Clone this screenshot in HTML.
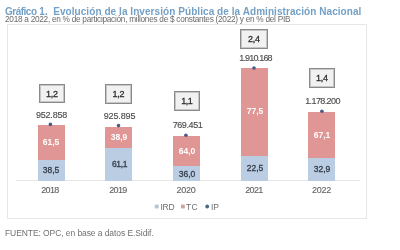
<!DOCTYPE html>
<html><head><meta charset="utf-8">
<style>
html,body{margin:0;padding:0;background:#fff;width:400px;height:250px;overflow:hidden;position:relative;font-family:"Liberation Sans",sans-serif;}
.a{position:absolute;}
.t{position:absolute;white-space:nowrap;line-height:1;}
.title{left:5px;top:6.5px;font-size:10px;font-weight:bold;letter-spacing:0.065px;color:#74a0c6;}
.sub{left:5px;top:16px;font-size:8.25px;letter-spacing:-0.27px;color:#6a6a6a;}
.frame{left:7px;top:24px;width:358px;height:193px;border:1px solid #e6e6e6;}
.axis{left:16px;top:180px;width:344px;height:1px;background:#e6e6e6;}
.bar{position:absolute;width:27px;}
.tc{background:#e09694;}
.ird{background:#bbcde2;}
.lbl{position:absolute;width:60px;text-align:center;white-space:nowrap;line-height:1;font-size:8.5px;}
.box{position:absolute;border:1px solid #8a8a8a;padding:1px;box-shadow:inset 0 0 0 1px #c6c6c6;background:#f1f1f1;text-align:center;font-size:8.5px;line-height:15px;color:#2e2e2e;font-size:9px;-webkit-text-stroke:0.3px #2e2e2e;letter-spacing:-0.2px;text-indent:-0.2px;}
.val{color:#4e4e4e;font-size:9px;-webkit-text-stroke:0.15px #4e4e4e;}
.yr{color:#606060;font-size:9px;-webkit-text-stroke:0.1px #606060;}
.w{color:#fff;font-weight:bold;}
.d{color:#333c4a;-webkit-text-stroke:0.3px #333c4a;}
.leg{font-size:8.5px;color:#6e6e6e;}
.dot{position:absolute;width:4px;height:4px;border-radius:50%;background:#4d5a84;}
.foot{left:5px;top:229px;font-size:8.5px;letter-spacing:-0.08px;color:#707070;}
#wrap{position:absolute;left:0;top:0;width:400px;height:250px;filter:blur(0.3px);}
</style></head><body>
<div id="wrap">
<div class="t title"><span style="letter-spacing:-0.5px">Gráfico</span> 1. <span style="margin-left:2.5px">Evolución de la Inversión Pública de la Administración Nacional</span></div>
<div class="t sub">2018 a 2022, en % de participación, millones de $ constantes (2022) y en % del PIB</div>
<div class="a frame"></div>
<div class="a axis"></div>

<!-- 2018 -->
<div class="bar tc" style="left:38px;top:125px;height:35px;"></div>
<div class="bar ird" style="left:38px;top:160px;height:21px;"></div>
<div class="box" style="left:39px;top:84px;width:22px;height:15px;line-height:16px;letter-spacing:-0.3px;text-indent:-0.3px;">1,2</div>
<div class="lbl val" style="left:21.5px;top:111px;letter-spacing:-0.2px;">952.858</div>
<div class="lbl w" style="left:21px;top:138px;">61,5</div>
<div class="lbl d" style="left:21px;top:166px;">38,5</div>
<div class="lbl yr" style="left:20px;top:186px;letter-spacing:-0.62px;">2018</div>

<!-- 2019 -->
<div class="bar tc" style="left:105px;top:127px;height:21px;"></div>
<div class="bar ird" style="left:105px;top:148px;height:33px;"></div>
<div class="box" style="left:105px;top:84px;width:23px;height:16px;line-height:17px;letter-spacing:-0.3px;text-indent:-0.3px;">1,2</div>
<div class="lbl val" style="left:89.5px;top:112px;letter-spacing:-0.15px;">925.895</div>
<div class="lbl w" style="left:89px;top:133px;">38,9</div>
<div class="lbl d" style="left:89.5px;top:160px;letter-spacing:-0.4px;">61,1</div>
<div class="lbl yr" style="left:88px;top:186px;letter-spacing:-0.62px;">2019</div>

<!-- 2020 -->
<div class="bar tc" style="left:173px;top:136px;height:30px;"></div>
<div class="bar ird" style="left:173px;top:166px;height:15px;"></div>
<div class="box" style="left:174px;top:91px;width:22px;height:16px;line-height:17px;letter-spacing:-0.6px;text-indent:-0.6px;">1,1</div>
<div class="lbl val" style="left:157.5px;top:121px;letter-spacing:-0.4px;">769.451</div>
<div class="lbl w" style="left:157px;top:147px;">64,0</div>
<div class="lbl d" style="left:157px;top:170px;">36,0</div>
<div class="lbl yr" style="left:156px;top:186px;letter-spacing:-0.22px;">2020</div>

<!-- 2021 -->
<div class="bar tc" style="left:241px;top:68px;height:88px;"></div>
<div class="bar ird" style="left:241px;top:156px;height:25px;"></div>
<div class="box" style="left:240px;top:29px;width:24px;height:16px;line-height:17px;">2,4</div>
<div class="lbl val" style="left:225.5px;top:54px;letter-spacing:-0.84px;">1.910.168</div>
<div class="lbl w" style="left:225px;top:107px;">77,5</div>
<div class="lbl d" style="left:225px;top:164px;">22,5</div>
<div class="lbl yr" style="left:224px;top:186px;letter-spacing:-0.62px;">2021</div>

<!-- 2022 -->
<div class="bar tc" style="left:308px;top:112px;height:46px;"></div>
<div class="bar ird" style="left:308px;top:158px;height:23px;"></div>
<div class="box" style="left:309px;top:68px;width:22px;height:16px;line-height:17px;letter-spacing:-0.3px;text-indent:-0.3px;">1,4</div>
<div class="lbl val" style="left:292.5px;top:97px;letter-spacing:-0.6px;">1.178.200</div>
<div class="lbl w" style="left:292px;top:131px;">67,1</div>
<div class="lbl d" style="left:292px;top:165px;">32,9</div>
<div class="lbl yr" style="left:291.5px;top:186px;letter-spacing:-0.22px;">2022</div>

<!-- IP dots -->
<svg class="a" style="left:0;top:0;" width="400" height="250">
<g fill="#4d5a84">
<circle cx="50.4" cy="124.4" r="1.8"/>
<circle cx="118.5" cy="125.6" r="1.8"/>
<circle cx="185.9" cy="135.2" r="1.8"/>
<circle cx="254" cy="68" r="1.8"/>
<circle cx="321.9" cy="111.2" r="1.8"/>
</g>
</svg>

<!-- legend -->
<svg class="a" style="left:0;top:0;" width="400" height="250">
<rect x="154.8" y="204.6" width="3.8" height="3.8" fill="#b4c4d2"/>
<rect x="181" y="204.6" width="3.8" height="3.8" fill="#cfa49a"/>
<circle cx="207.2" cy="206.5" r="1.9" fill="#4e6a82"/>
</svg>
<div class="t leg" style="left:160.5px;top:202.5px;letter-spacing:-0.3px;">IRD</div>
<div class="t leg" style="left:186px;top:202.5px;letter-spacing:0.2px;">TC</div>
<div class="t leg" style="left:211px;top:202.5px;">IP</div>

<div class="t foot">FUENTE: OPC, en base a datos E.Sidif.</div>
</div>
</body></html>
